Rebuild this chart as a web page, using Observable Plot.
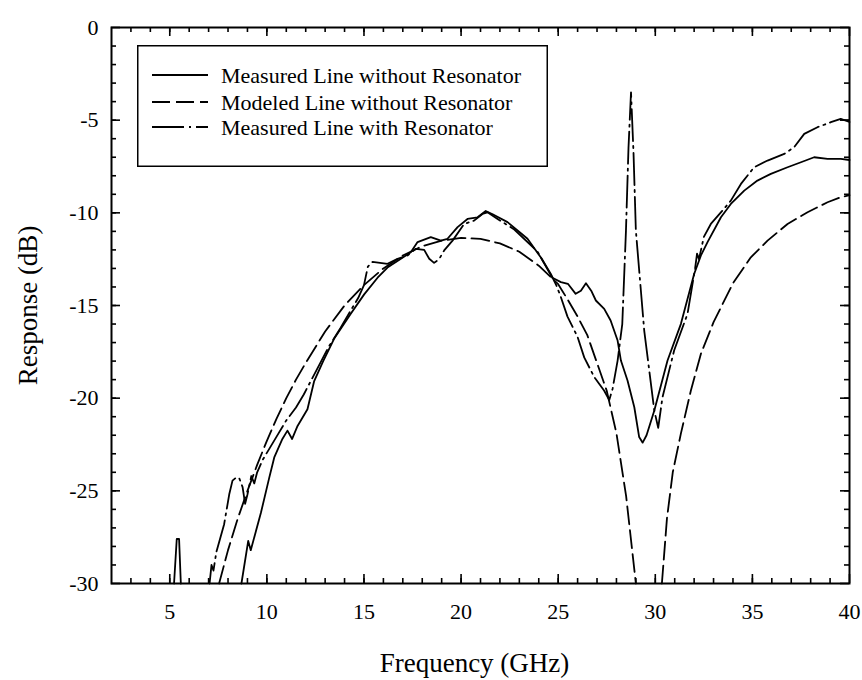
<!DOCTYPE html>
<html>
<head>
<meta charset="utf-8">
<script src="https://cdn.jsdelivr.net/npm/d3@7"></script>
<script src="https://cdn.jsdelivr.net/npm/@observablehq/plot@0.6"></script>
<style>
  body { margin: 0; background: #fff; }
  #wrap { position: relative; width: 862px; height: 680px; font-family: "Liberation Serif", "Times New Roman", serif; }
  #legend { position: absolute; left: 137px; top: 45px; }
</style>
</head>
<body>
<div id="wrap"></div>
<script>
// ---- Data ----
const seriesNames = ["Measured Line without Resonator", "Modeled Line without Resonator", "Measured Line with Resonator"];

const xTickLabels = [5, 10, 15, 20, 25, 30, 35, 40];
const yTickLabels = [0, -5, -10, -15, -20, -25, -30];
const xMinorTicks = d3.range(3, 40);
const yMinorTicks = d3.range(-29, 0);

// Measured Line without Resonator (solid); null = off the bottom of the chart
const solidFreq = [5.22, 5.36, 5.48, 5.57, 7.0, 8.69, 9.04, 9.17, 9.69, 10.12, 10.38, 10.8, 11.06, 11.3, 11.58, 12.09, 12.43, 12.9, 13.46, 14.32, 15.01, 15.7, 16.21, 16.9, 17.41, 17.76, 18.44, 18.96, 19.3, 19.82, 20.33, 20.85, 21.27, 21.6, 22.39, 23.08, 23.42, 24.1, 24.7, 25.14, 25.5, 25.9, 26.17, 26.43, 26.7, 26.94, 27.37, 27.7, 28.06, 28.23, 28.57, 28.92, 29.17, 29.35, 29.55, 29.95, 30.63, 31.32, 32.0, 32.35, 32.69, 33.38, 33.89, 34.58, 35.26, 35.95, 36.81, 37.5, 38.18, 38.87, 39.55, 40];
const solidDb = [-30, -27.6, -27.6, -30, null, -30, -27.7, -28.2, -26.2, -24.3, -23.2, -22.2, -21.75, -22.2, -21.5, -20.6, -19.1, -18.0, -16.8, -15.45, -14.4, -13.5, -12.95, -12.48, -12.13, -11.58, -11.31, -11.5, -11.4, -10.77, -10.33, -10.24, -9.9, -10.06, -10.5, -11.1, -11.4, -12.4, -13.5, -13.74, -13.83, -14.37, -14.2, -13.8, -14.2, -14.73, -15.18, -15.81, -16.89, -17.97, -19.05, -20.49, -22.1, -22.4, -22.0, -20.67, -17.97, -15.99, -13.3, -12.3, -11.58, -10.24, -9.52, -8.8, -8.26, -7.9, -7.54, -7.27, -7.0, -7.09, -7.09, -7.15];

// Modeled Line without Resonator (dashed)
const modelFreq = [7.54, 8.0, 8.5, 9.0, 9.5, 10.0, 10.5, 11.0, 11.5, 12.0, 13.0, 14.0, 15.0, 16.0, 17.0, 18.0, 19.0, 20.0, 21.0, 22.0, 23.0, 24.0, 25.0, 25.5, 26.0, 26.5, 27.0, 27.5, 28.0, 28.5, 29.0, 29.7, 30.34, 30.6, 30.9, 31.32, 31.83, 32.35, 33.0, 34.0, 34.92, 35.78, 36.81, 37.84, 38.87, 39.55, 40];
const modelDb = [-30, -28.2, -26.5, -25.0, -23.6, -22.3, -21.1, -20.0, -19.0, -18.1, -16.4, -15.0, -13.9, -13.0, -12.3, -11.8, -11.5, -11.35, -11.4, -11.65, -12.1, -12.85, -13.85, -14.7, -15.6, -16.6, -18.1, -19.6, -21.9, -25.3, -30, null, -30, -26.5, -24.0, -21.9, -19.6, -17.6, -15.9, -13.8, -12.4, -11.5, -10.6, -9.97, -9.43, -9.16, -9.05];

// Measured Line with Resonator (dash-dot)
const resFreq = [7.05, 7.15, 7.25, 7.4, 7.8, 8.06, 8.23, 8.4, 8.57, 8.75, 8.88, 9.0, 9.2, 9.35, 9.5, 9.8, 10.2, 10.6, 11.0, 11.5, 11.9, 12.3, 12.8, 13.2, 13.8, 14.3, 14.7, 15.0, 15.2, 15.44, 16.21, 16.73, 17.24, 17.67, 18.1, 18.36, 18.61, 18.87, 19.13, 19.56, 20.16, 20.67, 21.1, 21.36, 21.88, 22.74, 23.94, 24.62, 24.9, 25.14, 25.48, 26.0, 26.34, 26.86, 27.37, 27.63, 27.8, 28.06, 28.3, 28.49, 28.62, 28.75, 28.88, 29.0, 29.43, 29.95, 30.15, 30.37, 30.97, 31.66, 32.05, 32.15, 32.25, 32.5, 32.86, 33.46, 33.89, 34.41, 35.09, 35.78, 36.64, 37.15, 37.67, 38.35, 39.04, 39.55, 40];
const resDb = [-30, -29.0, -29.3, -28.3, -26.8, -25.2, -24.45, -24.3, -24.3, -24.8, -25.7, -25.2, -24.2, -24.6, -24.0, -23.3, -22.6, -21.9, -21.2, -20.5, -19.8, -19.0, -18.0, -17.2, -16.2, -15.3, -14.6, -13.9, -12.9, -12.65, -12.75, -12.48, -12.3, -11.94, -12.0, -12.48, -12.7, -12.5, -12.03, -11.5, -10.6, -10.42, -10.06, -9.97, -10.33, -10.9, -12.1, -13.3, -13.9, -14.55, -15.6, -16.7, -17.8, -18.87, -19.6, -20.1, -19.5, -17.97, -16.0, -10.96, -6.5, -3.5, -6.8, -10.96, -16.35, -20.67, -21.6, -19.95, -17.43, -15.45, -13.0, -12.2, -12.5, -11.3, -10.6, -9.88, -9.34, -8.44, -7.54, -7.18, -6.82, -6.46, -5.74, -5.38, -5.11, -4.93, -5.1];

// ---- Layout & styles ----
const W = 862, H = 680;
const mL = 111, mR = 13, mT = 27, mB = 97;
const frameW = W - mL - mR, frameH = H - mT - mB;
const xDomain = [2, 40], yDomain = [-30, 0];
const minorLen = 5, majorLen = 9;
const dashes = [null, "18,6", "32,5,2,5"];
const lineWidth = 1.8;
const font = '"Liberation Serif", "Times New Roman", serif';

const toRows = (fs, ds) => fs.map((f, i) => ({f, db: ds[i]}));
const tables = [toRows(solidFreq, solidDb), toRows(modelFreq, modelDb), toRows(resFreq, resDb)];

// inward tick length expressed in data units of each scale
const dyPerPx = (yDomain[1] - yDomain[0]) / frameH;
const dxPerPx = (xDomain[1] - xDomain[0]) / frameW;
const tickStyle = {stroke: "black", strokeWidth: 1.6};
const ticksX = (vals, len) => [
  Plot.ruleX(vals, {x: d => d, y1: yDomain[0], y2: yDomain[0] + len * dyPerPx, ...tickStyle}),
  Plot.ruleX(vals, {x: d => d, y1: yDomain[1], y2: yDomain[1] - len * dyPerPx, ...tickStyle})
];
const ticksY = (vals, len) => [
  Plot.ruleY(vals, {y: d => d, x1: xDomain[0], x2: xDomain[0] + len * dxPerPx, ...tickStyle}),
  Plot.ruleY(vals, {y: d => d, x1: xDomain[1], x2: xDomain[1] - len * dxPerPx, ...tickStyle})
];

const chart = Plot.plot({
  width: W,
  height: H,
  marginLeft: mL,
  marginRight: mR,
  marginTop: mT,
  marginBottom: mB,
  x: {domain: xDomain, axis: null},
  y: {domain: yDomain, axis: null},
  style: {fontFamily: font, background: "white", color: "black", overflow: "visible"},
  marks: [
    ...tables.map((t, i) => Plot.line(t, {x: "f", y: "db", stroke: "black", strokeWidth: lineWidth, strokeDasharray: dashes[i], strokeLinejoin: "round"})),
    ...ticksX(xMinorTicks, minorLen),
    ...ticksX(xTickLabels, majorLen),
    ...ticksY(yMinorTicks, minorLen),
    ...ticksY(yTickLabels, majorLen),
    Plot.frame({stroke: "black", strokeWidth: 2}),
    // tick labels
    Plot.text(xTickLabels, {x: d => d, text: d => String(d), frameAnchor: "bottom", textAnchor: "middle", lineAnchor: "top", dy: 20, fontSize: 22, fontFamily: font, fill: "black"}),
    Plot.text(yTickLabels, {y: d => d, text: d => String(d), frameAnchor: "left", textAnchor: "end", lineAnchor: "middle", dx: -13, fontSize: 22, fontFamily: font, fill: "black"}),
    // axis titles
    Plot.text(["Frequency (GHz)"], {text: d => d, frameAnchor: "bottom", textAnchor: "middle", lineAnchor: "middle", dy: 80, dx: -6, fontSize: 27, fontFamily: font, fill: "black"}),
    Plot.text(["Response (dB)"], {text: d => d, frameAnchor: "left", textAnchor: "middle", lineAnchor: "middle", rotate: -90, dx: -83, fontSize: 27, fontFamily: font, fill: "black"})
  ]
});

const wrap = document.getElementById("wrap");
wrap.appendChild(chart);

// ---- Legend (boxed, inside the plot area) ----
const lgW = 411, lgH = 122;
const rowY = [30, 57, 82];
const legend = d3.create("svg")
  .attr("id", "legend")
  .attr("width", lgW)
  .attr("height", lgH)
  .style("font-family", font);
legend.append("rect")
  .attr("x", 0.75).attr("y", 0.75)
  .attr("width", lgW - 1.5).attr("height", lgH - 1.5)
  .attr("fill", "white").attr("stroke", "black").attr("stroke-width", 1.5);
seriesNames.forEach((name, i) => {
  legend.append("line")
    .attr("x1", 15).attr("x2", 71)
    .attr("y1", rowY[i]).attr("y2", rowY[i])
    .attr("stroke", "black").attr("stroke-width", lineWidth)
    .attr("stroke-dasharray", dashes[i]);
  legend.append("text")
    .attr("x", 84).attr("y", rowY[i])
    .attr("dominant-baseline", "central")
    .attr("font-size", 22)
    .attr("fill", "black")
    .text(name);
});
wrap.appendChild(legend.node());
</script>
</body>
</html>
